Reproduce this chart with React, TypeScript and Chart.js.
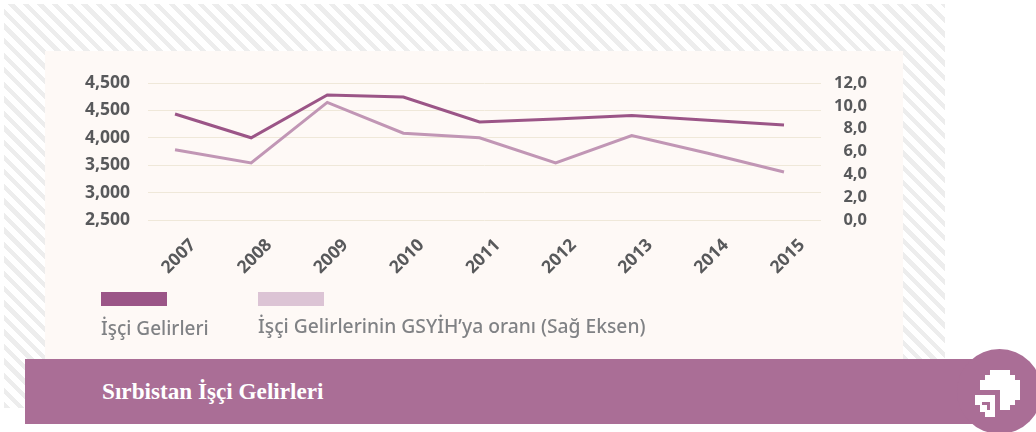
import React, { useEffect, useRef } from "react";
import { Chart, registerables } from "chart.js";

Chart.register(...registerables);

const years = [2007, 2008, 2009, 2010, 2011, 2012, 2013, 2014, 2015];
const incomes = [4434, 4000, 4781, 4745, 4288, 4343, 4407, 4320, 4234];
const gdpShare = [6.15, 5.0, 10.3, 7.6, 7.2, 5.0, 7.4, 5.85, 4.2];
const leftTickLabels: Record<number, string> = { 5000: "4,500", 4500: "4,500", 4000: "4,000", 3500: "3,500", 3000: "3,000", 2500: "2,500" };
const seriesNames = ["İşçi Gelirleri", "İşçi Gelirlerinin GSYİH’ya oranı (Sağ Eksen)"];
const title = "Sırbistan İşçi Gelirleri";

const C1 = "#9b5587";
const C2 = "#c196b5";
const box = (s: React.CSSProperties): React.CSSProperties => ({ position: "absolute", ...s });

export default function App() {
  const ref = useRef<HTMLCanvasElement>(null);
  useEffect(() => {
    const tickFont = { family: "'Noto Sans'", size: 17.5, weight: "bold" as const };
    const rightFont = { family: "'Noto Sans'", size: 16.5, weight: "bold" as const };
    const chart = new Chart(ref.current!, {
      type: "line",
      data: {
        datasets: [
          { label: seriesNames[0], data: years.map((x, i) => ({ x, y: incomes[i] })), borderColor: C1, borderWidth: 3, pointRadius: 0, tension: 0, yAxisID: "y", xAxisID: "x" },
          { label: seriesNames[1], data: years.map((x, i) => ({ x, y: gdpShare[i] })), borderColor: C2, borderWidth: 3, pointRadius: 0, tension: 0, yAxisID: "y2", xAxisID: "x" },
        ],
      },
      options: {
        animation: false,
        responsive: false,
        layout: { padding: { top: 83, right: 169, left: 0, bottom: 0 } },
        plugins: { legend: { display: false }, tooltip: { enabled: false } },
        scales: {
          x: {
            type: "linear",
            min: 2006.645,
            max: 2015.486,
            grid: { display: false },
            border: { display: false },
            afterBuildTicks: (s: any) => { s.ticks = years.map((value) => ({ value })); },
            afterFit: (s: any) => { s.height = 212; },
            ticks: {
              autoSkip: false,
              minRotation: 45,
              maxRotation: 45,
              padding: 7,
              labelOffset: 18,
              color: "#58595b",
              font: tickFont,
              callback: (v: any) => String(v),
            },
          },
          y: {
            position: "left",
            min: 2500,
            max: 5000,
            border: { display: false },
            grid: { color: "#efe8d9", lineWidth: 1, drawTicks: false },
            afterFit: (s: any) => { s.width = 148; },
            ticks: { stepSize: 500, padding: 18, color: "#58595b", font: tickFont, callback: (v: any) => leftTickLabels[v] },
          },
          y2: {
            position: "right",
            min: 0,
            max: 12,
            border: { display: false },
            grid: { display: false, drawTicks: false },
            afterFit: (s: any) => { s.width = 46; },
            ticks: { stepSize: 2, padding: 14, crossAlign: "far", color: "#58595b", font: rightFont, callback: (v: any) => Number(v).toFixed(1).replace(".", ",") },
          },
        },
      },
    } as any);
    return () => chart.destroy();
  }, []);

  return (
    <div style={box({ left: 0, top: 0, width: 1036, height: 432, overflow: "hidden", background: "#fff" })}>
      <div style={box({ left: 4, top: 4, width: 941, height: 404, background: "repeating-linear-gradient(45deg, #ededed 0 4.5px, #ffffff 4.5px 10.3px)" })} />
      <div style={box({ left: 45, top: 51, width: 858, height: 310, background: "#fef9f6" })} />
      <canvas ref={ref} width={1036} height={432} style={box({ left: 0, top: 0, width: 1036, height: 432 })} />
      <div style={box({ left: 101, top: 315, fontFamily: "'Noto Sans'", fontWeight: 500, fontSize: 19, lineHeight: "26px", color: "#808285", whiteSpace: "nowrap" })}>{seriesNames[0]}</div>
      <div style={box({ left: 258, top: 313, fontFamily: "'Noto Sans'", fontWeight: 500, fontSize: 19.25, lineHeight: "26px", color: "#808285", whiteSpace: "nowrap" })}>{seriesNames[1]}</div>
      <div style={box({ left: 101, top: 292, width: 66, height: 14, background: "#9b5587" })} />
      <div style={box({ left: 258, top: 292, width: 66, height: 14, background: "#dcc4d5" })} />
      <div style={box({ left: 25, top: 359, width: 975, height: 65, background: "#aa6e96" })} />
      <div style={box({ left: 957, top: 349, width: 85, height: 85, borderRadius: "50%", background: "#aa6e96" })} />
      <div style={box({ left: 102, top: 377, fontFamily: "'Liberation Serif'", fontWeight: "bold", fontSize: 23.2, lineHeight: "28px", color: "#fff", whiteSpace: "nowrap" })}>{title}</div>
      <svg width={156} height={102} viewBox="0 0 468 306" shapeRendering="crispEdges" style={box({ left: 880, top: 330 })}>
        <path fill="#fff" d="M330 120H390V135H405V150H420V210H405V225H390V240H360V180H300V150H315V135H330Z" />
        <path fill="#fff" fillRule="evenodd" d="M285 195H345V260H315V245H300V225H285ZM305 215H330V240H320V225H305Z" />
      </svg>
    </div>
  );
}
